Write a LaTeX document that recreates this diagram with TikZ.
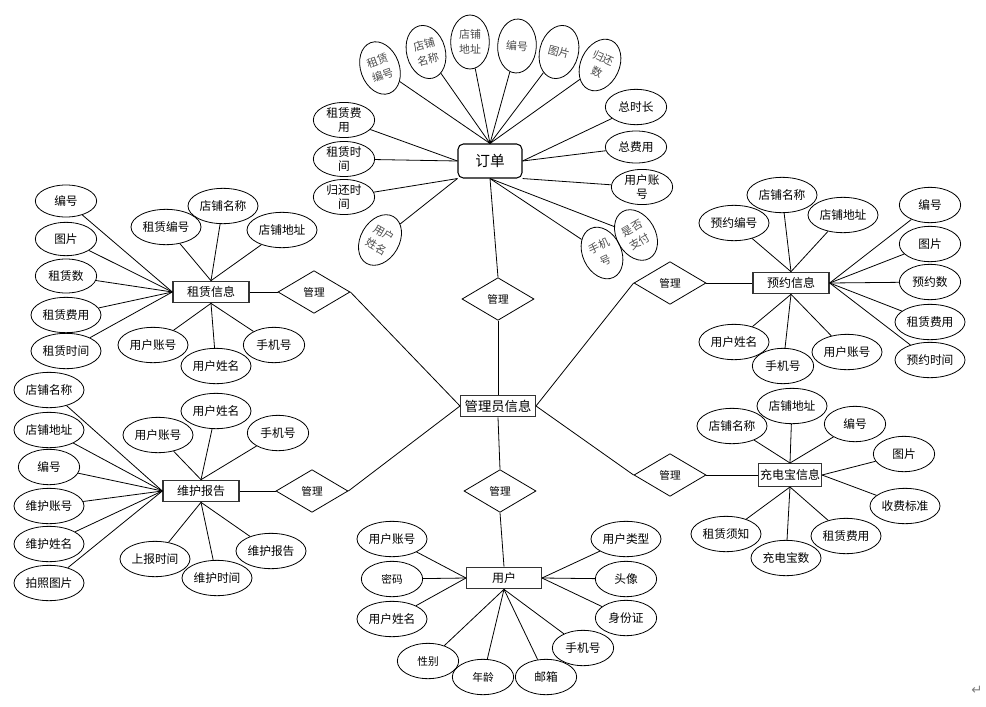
\documentclass[tikz,border=0pt]{standalone}
\usepackage{fontspec}
\setmainfont{Noto Sans CJK SC}
\newfontfamily\symfont{DejaVu Sans}
\usetikzlibrary{shapes.geometric}
\begin{document}
\begin{tikzpicture}[x=0.75pt,y=-0.75pt]
\tikzset{
 attr/.style={ellipse, draw, line width=0.6pt, minimum width=52.5pt, minimum height=26.5pt, inner sep=0pt, align=center, font=\fontsize{8.8}{10.5}\selectfont},
 sattr/.style={attr, minimum width=46pt},
 rattr/.style={ellipse, draw, line width=0.6pt, minimum width=29pt, minimum height=40.5pt, inner sep=0pt, align=center, font=\fontsize{8.2}{11.5}\selectfont, text=black!70},
 ent/.style={rectangle, draw=black!80, line width=1pt, minimum width=57pt, minimum height=16pt, inner sep=1pt, font=\fontsize{9}{11}\selectfont},
 rel/.style={diamond, draw, line width=0.6pt, minimum width=54pt, minimum height=32pt, inner sep=0pt, font=\fontsize{8}{10}\selectfont},
 link/.style={draw, line width=0.6pt},
}
\useasboundingbox (0,0) rectangle (986,707);
\fill[white] (0,0) rectangle (986,707);

% ---- central entities ----
\node[ent, minimum width=56pt, font=\fontsize{10}{12}\selectfont] (adm) at (498,406) {管理员信息};
\node[rectangle, draw, line width=0.8pt, rounded corners=4pt, minimum width=48pt, minimum height=25.5pt, font=\fontsize{11}{13}\selectfont] (order) at (490,161) {订单};
\node[ent] (zl) at (211,292) {租赁信息};
\node[ent] (wh) at (201,491) {维护报告};
\node[ent, minimum width=56pt] (yh) at (504,578) {用户};
\node[ent] (yy) at (791,283) {预约信息};
\node[ent, minimum width=46.5pt, minimum height=17pt] (cd) at (790,475) {充电宝信息};

% ---- relations ----
\node[rel] (d1) at (498,299) {管理};
\node[rel] (d2) at (314,292) {管理};
\node[rel] (d3) at (312,491) {管理};
\node[rel] (d4) at (670,283) {管理};
\node[rel] (d5) at (670,475) {管理};
\node[rel] (d6) at (500,491) {管理};

% ---- order attributes ----
\node[rattr, rotate=20] (o1) at (380,68) {租赁\\编号};
\node[rattr, rotate=15] (o2) at (426,52) {店铺\\名称};
\node[rattr] (o3) at (470,42) {店铺\\地址};
\node[rattr, rotate=-3] (o4) at (517,46) {编号};
\node[rattr, rotate=-15] (o5) at (559,52) {图片};
\node[rattr, rotate=-25] (o6) at (600,65) {归还\\数};
\node[sattr] (o7) at (636,107) {总时长};
\node[sattr, minimum height=24pt] (o8) at (636,147) {总费用};
\node[sattr, minimum height=25pt] (o9) at (642,187) {用户账\\号};
\node[rattr, rotate=30] (o10) at (636,235) {是否\\支付};
\node[rattr, rotate=25] (o11) at (602,253) {手机\\号};
\node[rattr, rotate=-30] (o12) at (380,240) {用户\\姓名};
\node[sattr, minimum height=24pt] (o13) at (344,197) {归还时\\间};
\node[sattr, minimum height=24pt] (o14) at (344,159) {租赁时\\间};
\node[sattr, minimum height=23pt] (o15) at (344,120) {租赁费\\用};
\foreach \n in {o1,o2,o3,o4,o5,o6} \draw[link] (\n) -- (order.north);
\foreach \n in {o7,o8} \draw[link] (\n) -- (order.east);
\draw[link] (o9) -- (order.south east);
\foreach \n in {o10,o11} \draw[link] (\n) -- (order.south);
\foreach \n in {o14,o15} \draw[link] (\n) -- (order.west);
\foreach \n in {o12,o13} \draw[link] (\n) -- (order.south west);

% ---- 租赁信息 attributes ----
\node[sattr, minimum height=24pt] (z1) at (66,201) {编号};
\node[sattr, minimum height=25pt] (z2) at (66,239) {图片};
\node[sattr, minimum height=25.5pt] (z3) at (66,276) {租赁数};
\node[attr] (z4) at (66,315) {租赁费用};
\node[attr] (z5) at (66,351) {租赁时间};
\node[attr] (z6) at (166,227) {租赁编号};
\node[attr] (z7) at (223,206) {店铺名称};
\node[attr] (z8) at (282,230) {店铺地址};
\node[attr] (z9) at (153,345) {用户账号};
\node[attr] (z10) at (216,366) {用户姓名};
\node[sattr] (z11) at (274,345) {手机号};
\foreach \n in {z1,z2,z3,z4,z5} \draw[link] (\n) -- (zl.west);
\foreach \n in {z6,z7,z8} \draw[link] (\n) -- (zl.north);
\foreach \n in {z9,z10,z11} \draw[link] (\n) -- (zl.south);

% ---- 维护报告 attributes ----
\node[attr] (w1) at (49,390) {店铺名称};
\node[attr] (w2) at (49,430) {店铺地址};
\node[sattr] (w3) at (49,467) {编号};
\node[attr] (w4) at (49,506) {维护账号};
\node[attr] (w5) at (49,544) {维护姓名};
\node[attr] (w6) at (49,583) {拍照图片};
\node[attr] (w7) at (158,435) {用户账号};
\node[attr] (w8) at (216,411) {用户姓名};
\node[sattr] (w9) at (278,433) {手机号};
\node[attr] (w10) at (155,559) {上报时间};
\node[attr] (w11) at (217,578) {维护时间};
\node[attr] (w12) at (271,551) {维护报告};
\foreach \n in {w1,w2,w3,w4,w5,w6} \draw[link] (\n) -- (wh.west);
\foreach \n in {w7,w8,w9} \draw[link] (\n) -- (wh.north);
\foreach \n in {w10,w11,w12} \draw[link] (\n) -- (wh.south);

% ---- 用户 attributes ----
\node[attr] (u1) at (392,539) {用户账号};
\node[sattr, font=\fontsize{8}{10}\selectfont] (u2) at (392,579) {密码};
\node[attr] (u3) at (392,619) {用户姓名};
\node[attr] (u4) at (626,539) {用户类型};
\node[sattr] (u5) at (626,579) {头像};
\node[sattr] (u6) at (626,618) {身份证};
\node[sattr] (u7) at (583,648) {手机号};
\node[sattr] (u8) at (546,677) {邮箱};
\node[sattr, font=\fontsize{8}{10}\selectfont] (u9) at (483,677) {年龄};
\node[sattr, font=\fontsize{8}{10}\selectfont] (u10) at (428,661) {性别};
\foreach \n in {u1,u2,u3} \draw[link] (\n) -- (yh.west);
\foreach \n in {u4,u5,u6} \draw[link] (\n) -- (yh.east);
\foreach \n in {u7,u8,u9,u10} \draw[link] (\n) -- (yh.south);

% ---- 预约信息 attributes ----
\node[attr] (y1) at (734,223) {预约编号};
\node[attr] (y2) at (782,195) {店铺名称};
\node[attr] (y3) at (843,215) {店铺地址};
\node[sattr] (y4) at (930,205) {编号};
\node[sattr] (y5) at (930,244) {图片};
\node[sattr] (y6) at (930,282) {预约数};
\node[attr] (y7) at (930,322) {租赁费用};
\node[attr] (y8) at (930,360) {预约时间};
\node[attr] (y9) at (734,342) {用户姓名};
\node[sattr] (y10) at (783,366) {手机号};
\node[attr] (y11) at (847,352) {用户账号};
\foreach \n in {y1,y2,y3} \draw[link] (\n) -- (yy.north);
\foreach \n in {y4,y5,y6,y7,y8} \draw[link] (\n) -- (yy.east);
\foreach \n in {y9,y10,y11} \draw[link] (\n) -- (yy.south);

% ---- 充电宝信息 attributes ----
\node[attr] (c1) at (732,426) {店铺名称};
\node[attr] (c2) at (792,406) {店铺地址};
\node[sattr] (c3) at (855,424) {编号};
\node[sattr] (c4) at (904,454) {图片};
\node[attr] (c5) at (905,506) {收费标准};
\node[attr] (c6) at (726,534) {租赁须知};
\node[attr] (c7) at (786,558) {充电宝数};
\node[attr] (c8) at (846,536) {租赁费用};
\foreach \n in {c1,c2,c3} \draw[link] (\n) -- (cd.north);
\foreach \n in {c4,c5} \draw[link] (\n) -- (cd.east);
\foreach \n in {c6,c7,c8} \draw[link] (\n) -- (cd.south);

% ---- relation links ----
\draw[link] (order.south) -- (d1.north);
\draw[link] (d1.south) -- (adm.north);
\draw[link] (zl.east) -- (d2.west);
\draw[link] (d2.east) -- (adm.west);
\draw[link] (wh.east) -- (d3.west);
\draw[link] (d3.east) -- (adm.west);
\draw[link] (adm.east) -- (d4.west);
\draw[link] (d4.east) -- (yy.west);
\draw[link] (adm.east) -- (d5.west);
\draw[link] (d5.east) -- (cd.west);
\draw[link] (adm.south) -- (d6.north);
\draw[link] (d6.south) -- (yh.north);

\node[text=black!50, font=\symfont\fontsize{10}{12}\selectfont, inner sep=0pt] (ret) at (977,690) {↵};
\end{tikzpicture}
\end{document}
